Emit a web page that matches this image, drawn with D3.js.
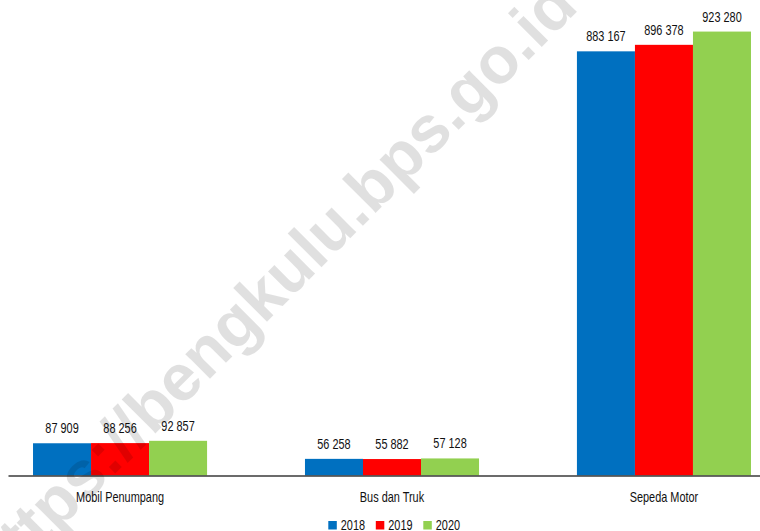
<!DOCTYPE html>
<html>
<head>
<meta charset="utf-8">
<script src="https://cdn.jsdelivr.net/npm/d3@7"></script>
<style>
  body { margin: 0; background: #fff; }
  text { font-family: "Liberation Sans", Arial, sans-serif; fill: #111; }
</style>
</head>
<body>
<div id="chart"></div>
<script>
// Data
var categories = ["Mobil Penumpang", "Bus dan Truk", "Sepeda Motor"];
var years = ["2018", "2019", "2020"];
var values2018 = [87909, 56258, 883167];
var values2019 = [88256, 55882, 896378];
var values2020 = [92857, 57128, 923280];
var colors = ["#0070C0", "#FF0000", "#92D050"];

var svgWidth = 760;
var svgHeight = 531;
var narrow = 0.78; // squeeze text horizontally, the original font is condensed

var svg = d3.select("#chart")
  .append("svg")
  .attr("width", svgWidth)
  .attr("height", svgHeight);

var seriesValues = [values2018, values2019, values2020];
var rows = categories.map(function(c, i) {
  return { cat: c, vals: years.map(function(y, j) { return { year: y, value: seriesValues[j][i], color: colors[j] }; }) };
});

// Scales
var x0 = d3.scaleBand()
  .domain(categories)
  .range([8, 776])
  .paddingInner(0.36)
  .paddingOuter(0.092);

var x1 = d3.scaleBand()
  .domain(years)
  .range([0, x0.bandwidth()]);

var baseline = 475.5;
var yLinearScale = d3.scaleLinear()
  .domain([22500, 950000])
  .range([baseline, 18.4]);

// Bars
var groups = svg.selectAll("g.group")
  .data(rows)
  .enter()
  .append("g")
  .attr("class", "group")
  .attr("transform", d => `translate(${x0(d.cat)}, 0)`);

groups.selectAll("rect")
  .data(d => d.vals)
  .enter()
  .append("rect")
  .attr("x", d => x1(d.year))
  .attr("y", d => yLinearScale(d.value))
  .attr("width", x1.bandwidth())
  .attr("height", d => baseline - yLinearScale(d.value))
  .attr("fill", d => d.color);

// Value labels
var fmt = function(v) { return d3.format(",")(v).replace(/,/g, " "); };
groups.selectAll("text.val")
  .data(d => d.vals)
  .enter()
  .append("text")
  .attr("class", "val")
  .attr("transform", d => `translate(${x1(d.year) + x1.bandwidth() / 2}, ${yLinearScale(d.value) - 10}) scale(${narrow}, 1)`)
  .attr("text-anchor", "middle")
  .attr("font-size", 14)
  .text(d => fmt(d.value));

// Axis
var bottomAxis = d3.axisBottom(x0).tickSize(0).tickSizeOuter(0).tickPadding(16.5);
var axisG = svg.append("g")
  .attr("transform", `translate(0, ${baseline})`)
  .call(bottomAxis);
axisG.select(".domain").attr("stroke", "#3a3a3a").attr("stroke-width", 1.6);
axisG.selectAll("text")
  .attr("font-size", 14)
  .attr("font-family", "Liberation Sans, Arial, sans-serif")
  .attr("fill", "#111")
  .attr("transform", `scale(${narrow}, 1)`);

// Legend
var legend = svg.selectAll("g.legend")
  .data(years)
  .enter()
  .append("g")
  .attr("class", "legend")
  .attr("transform", (d, i) => `translate(${328.3 + i * 47.5}, 521)`);

legend.append("rect")
  .attr("width", 8.5)
  .attr("height", 8.5)
  .attr("fill", (d, i) => colors[i]);

legend.append("text")
  .attr("transform", `translate(12.5, 8.8) scale(${narrow}, 1)`)
  .attr("font-size", 14)
  .text(d => d);

// Watermark
svg.append("text")
  .attr("transform", "translate(272, 284) rotate(-45)")
  .attr("text-anchor", "middle")
  .attr("dy", "0.35em")
  .attr("font-size", 66)
  .attr("font-weight", "bold")
  .style("font-family", "Liberation Sans, Arial, sans-serif")
  .style("fill", "#000")
  .style("fill-opacity", 0.12)
  .text("https://bengkulu.bps.go.id");
</script>
</body>
</html>
